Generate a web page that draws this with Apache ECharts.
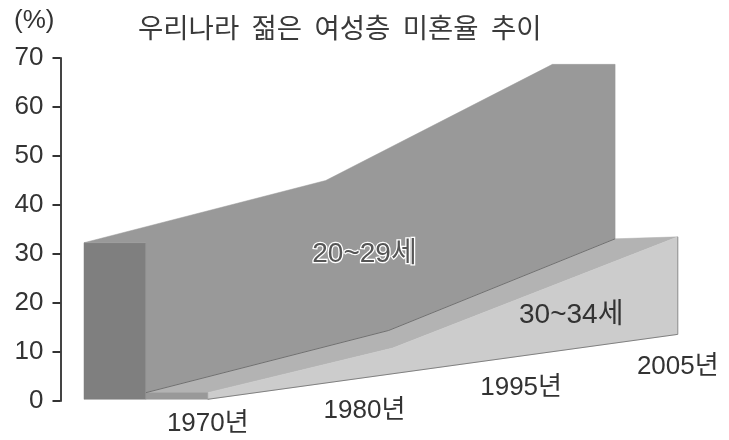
<!DOCTYPE html>
<html><head><meta charset="utf-8">
<style>html,body{margin:0;padding:0;background:#fff}#c{width:729px;height:440px}</style>
<script src="https://cdn.jsdelivr.net/npm/echarts@6/dist/echarts.min.js"></script>
</head><body><div id="c"></div>
<script>
const categories = ['1970년','1980년','1995년','2005년'];
const yTicks = [0,10,20,30,40,50,60,70];
const seriesNames = ['20~29세','30~34세'];
const ageYoungBack  = [32.3, 45.0, 68.7];
const ageYoungFront = [1.7, 14.4, 33.1];
const ageOlderFront = [1.7, 10.8, 33.5];
const floorLevel    = [0.35, 13.6];
const categoryLabelLevel = [-4.7, -2.0, 2.6, 6.9];
const seriesLabelLevel   = [29.9, 17.5];

// layout of the pseudo-3D ribbons, in category slots along the floor
const LAYOUT = {
  back:[-0.79, 0.753, 2.2],
  mid:[-0.395, 1.155, 2.6],
  front:[0, 1.18, 3],
  depth:0.4,
  seriesLabelX:[1.0, 2.32]
};
const zip=(xs,ys)=>xs.map((x,i)=>[x,ys[i]]);
const L=LAYOUT;
const youngEnd=L.back[2]+L.depth;

const polyYoungSide=[[L.back[0],ageYoungBack[0]],[L.mid[0],ageYoungBack[0]],[L.mid[0],floorLevel[0]],[L.back[0],floorLevel[0]]];
const polyYoung=[...zip(L.back,ageYoungBack),[youngEnd,ageYoungBack[2]],...zip(L.mid,ageYoungFront).reverse(),[L.mid[0],ageYoungBack[0]]];
const polyOlderSide=[[L.mid[0],ageOlderFront[0]],[L.front[0],ageOlderFront[0]],[L.front[0],floorLevel[0]],[L.mid[0],floorLevel[0]]];
const polyOlderTop=[...zip(L.mid,ageYoungFront),[L.front[2],ageOlderFront[2]],...zip(L.front,ageOlderFront).reverse().slice(1)];
const polyOlderWall=[...zip(L.front,ageOlderFront),[L.front[2],floorLevel[1]],[L.front[0],floorLevel[0]]];

function polygonSeries(points,color){
  return {type:'custom',coordinateSystem:'cartesian2d',silent:true,clip:false,data:points,
    renderItem(params,api){
      if(params.dataIndex!==0) return null;
      return {type:'polygon',shape:{points:points.map(p=>api.coord(p))},style:{fill:color,stroke:color,lineWidth:0.5}};
    }};
}
function edge(points,color,w){
  return {type:'line',data:points,symbol:'none',silent:true,lineStyle:{color:color,width:w},clip:false,z:3};
}
const FONT='"Liberation Sans","Noto Sans CJK KR",sans-serif';
function textSeries(rows,size,color,halo){
  return {type:'custom',coordinateSystem:'cartesian2d',silent:true,clip:false,z:5,data:rows,
    renderItem(params,api){
      const r=rows[params.dataIndex], c=api.coord([r[0],r[1]]);
      const st={text:r[2],x:c[0],y:c[1],align:'center',verticalAlign:'middle',fill:color,font:size+'px '+FONT};
      if(halo){st.stroke='#fff';st.lineWidth=2.5;}
      return {type:'text',style:st};
    }};
}
const chart=echarts.init(document.getElementById('c'),null,{renderer:'canvas'});
chart.setOption({
  animation:false,
  backgroundColor:'#fff',
  title:{text:'우리나라  젊은  여성층  미혼율  추이',left:133,top:9,
    textStyle:{fontFamily:'"Noto Sans CJK KR"',fontWeight:'normal',fontSize:27.5,color:'#3a3a3a'}},
  grid:{left:60.5,top:58,width:626.67,height:343},
  xAxis:{type:'value',min:-0.94,max:3.06,show:false},
  yAxis:{type:'value',min:yTicks[0],max:yTicks[yTicks.length-1],interval:10,name:'(%)',nameGap:24,
    nameTextStyle:{fontFamily:FONT,fontSize:26,color:'#333',align:'right',padding:[0,6,0,0]},
    axisLine:{show:true,onZero:false,lineStyle:{color:'#444',width:2}},
    axisTick:{show:true,length:8,lineStyle:{color:'#333',width:2}},
    axisLabel:{fontFamily:FONT,fontSize:26,color:'#333',margin:17},
    splitLine:{show:false}},
  series:[
    polygonSeries(polyYoungSide,'#7f7f7f'),
    polygonSeries(polyYoung,'#999999'),
    polygonSeries(polyOlderTop,'#b3b3b3'),
    polygonSeries(polyOlderWall,'#cccccc'),
    polygonSeries(polyOlderSide,'#999999'),
    edge(zip(L.mid,ageYoungFront),'#707070',1),
    edge([[L.front[0],floorLevel[0]],[L.front[2],floorLevel[1]]],'#808080',1),
    edge([[L.front[2],floorLevel[1]],[L.front[2],ageOlderFront[2]]],'#909090',1),
    textSeries(categories.map((c,i)=>[i,categoryLabelLevel[i],c]),26,'#333',false),
    textSeries([[L.seriesLabelX[0],seriesLabelLevel[0],seriesNames[0]]],28,'#555',true),
    textSeries([[L.seriesLabelX[1],seriesLabelLevel[1],seriesNames[1]]],28,'#333',false)
  ]
});
</script></body></html>
